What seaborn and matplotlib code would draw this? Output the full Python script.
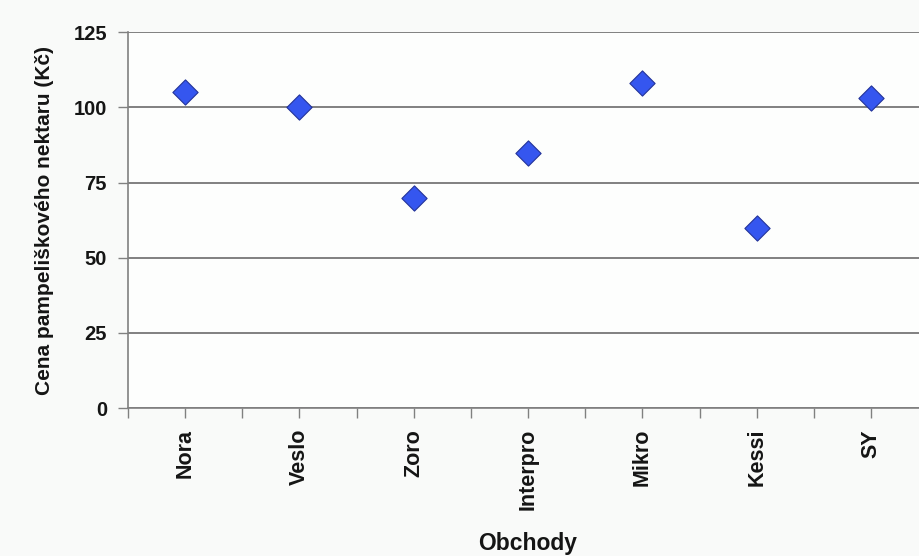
import matplotlib
matplotlib.use("Agg")
import matplotlib.pyplot as plt
import seaborn as sns
import pandas as pd
import numpy as np

# data
obchody = ["Nora", "Veslo", "Zoro", "Interpro", "Mikro", "Kessi", "SY"]
ceny = [105, 100, 70, 85, 108, 60, 103]
y_ticks = [0, 25, 50, 75, 100, 125]

df = pd.DataFrame({"obchod": obchody, "cena": ceny})
df["pos"] = np.arange(len(obchody))

sns.set_theme(style="white")
plt.rcParams["font.family"] = ["Liberation Sans", "DejaVu Sans"]

fig = plt.figure(figsize=(9.2, 5.56), dpi=100, facecolor="#f9faf9")
ax = fig.add_axes([0.139, 0.266, 0.87, 0.676])
ax.set_facecolor("#fdfefd")

sns.scatterplot(data=df, x="pos", y="cena", marker="D", s=165,
                color="#3556ef", edgecolor="#23349a", linewidth=0.8,
                ax=ax, zorder=3, legend=False)

ax.set_xlim(-0.5, 6.5)
ax.set_ylim(0, 125)
ax.set_yticks(y_ticks)
ax.set_yticklabels([str(v) for v in y_ticks], fontsize=14.5, fontweight="bold")
ax.set_xticks(df["pos"])
ax.set_xticklabels(obchody, rotation=90, fontsize=15.5, fontweight="bold")
ax.set_xticks(np.arange(-0.5, 6.6, 1), minor=True)
ax.tick_params(axis="y", length=7, width=1, color="#808080",
               direction="out", left=True, pad=8, labelcolor="#151515")
ax.tick_params(axis="x", which="both", length=7, width=1, color="#808080",
               direction="out", bottom=True, pad=8, labelcolor="#151515")

ax.yaxis.grid(True, color="#808080", linewidth=1.4)
ax.set_axisbelow(True)
for side in ["top", "right"]:
    ax.spines[side].set_visible(False)
for side in ["left", "bottom"]:
    ax.spines[side].set_color("#808080")
    ax.spines[side].set_linewidth(1.2)

ax.set_xlabel("Obchody", fontsize=16.5, fontweight="bold", color="#151515")
ax.set_ylabel("Cena pampeliškového nektaru (Kč)", fontsize=15,
              fontweight="bold", color="#151515")
ax.xaxis.set_label_coords(0.5, -0.33)
ax.yaxis.set_label_coords(-0.092, 0.5)

fig.savefig("out.png", dpi=100, facecolor=fig.get_facecolor())
